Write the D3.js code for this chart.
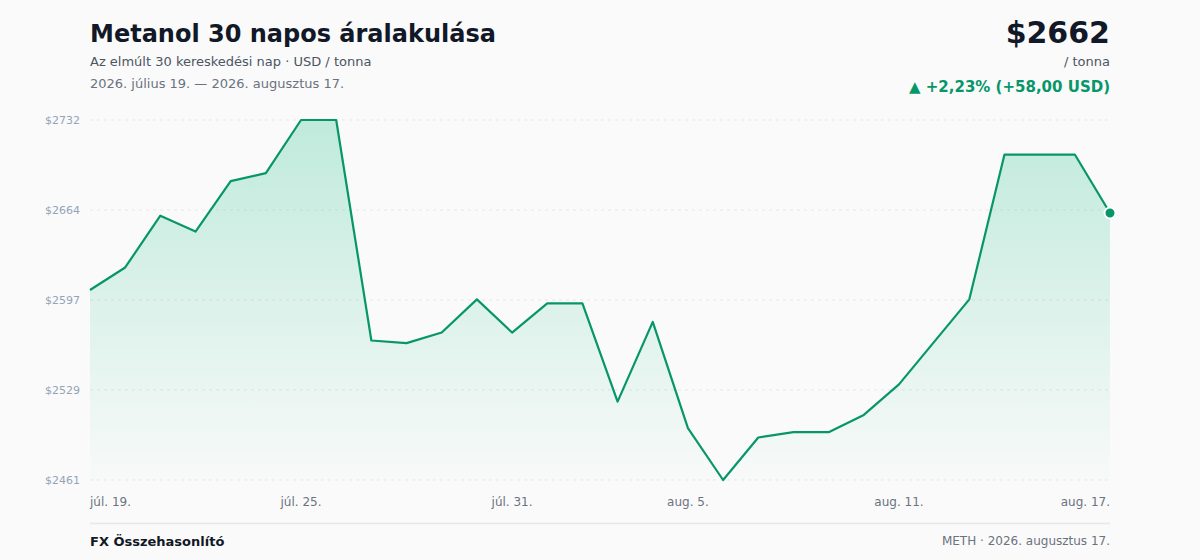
<!DOCTYPE html>
<html lang="hu">
<head>
  <meta charset="utf-8">
  <title>Metanol 30 napos áralakulása</title>
  <script src="https://d3js.org/d3.v7.min.js"></script>
  <style>
    body {
      margin: 0;
      padding: 0;
      background-color: #fafafa;
      font-family: "DejaVu Sans", sans-serif;
    }
    svg { display: block; }
  </style>
</head>
<body>
  <svg id="chart" width="1200" height="560"></svg>

  <script>
    // 30 trading days, Jul 19 -> Aug 17 2026
    const dayLabels = [
      "júl. 19.", "júl. 20.", "júl. 21.", "júl. 22.", "júl. 23.", "júl. 24.",
      "júl. 25.", "júl. 26.", "júl. 27.", "júl. 28.", "júl. 29.", "júl. 30.",
      "júl. 31.", "aug. 1.", "aug. 2.", "aug. 3.", "aug. 4.", "aug. 5.",
      "aug. 6.", "aug. 7.", "aug. 8.", "aug. 9.", "aug. 10.", "aug. 11.",
      "aug. 12.", "aug. 13.", "aug. 14.", "aug. 15.", "aug. 16.", "aug. 17."
    ];
    const prices = [
      2604, 2621, 2660, 2648, 2686, 2692, 2732, 2732, 2566, 2564,
      2572, 2597, 2572, 2594, 2594, 2520, 2580, 2500, 2461, 2493,
      2497, 2497, 2510, 2533, 2565, 2597, 2706, 2706, 2706, 2662
    ];
    const tickIndexes = [0, 6, 12, 17, 23, 29];

    const plotLeft = 90, plotRight = 1110, plotTop = 120, plotBottom = 480;
    const green = "#079669";

    const svg = d3.select("#chart");

    const x = d3.scaleLinear().domain([0, prices.length - 1]).range([plotLeft, plotRight]);
    const yMin = d3.min(prices), yMax = d3.max(prices);
    const y = d3.scaleLinear().domain([yMin, yMax]).range([plotBottom, plotTop]);
    const yTicks = d3.range(5).map(i => yMin + (yMax - yMin) * i / 4);

    // header
    svg.append("text").attr("x", 90).attr("y", 42)
      .attr("font-size", 24).attr("font-weight", "bold").attr("fill", "#111827")
      .text("Metanol 30 napos áralakulása");
    svg.append("text").attr("x", 90).attr("y", 66)
      .attr("font-size", 13).attr("fill", "#4b5563")
      .text("Az elmúlt 30 kereskedési nap · USD / tonna");
    svg.append("text").attr("x", 90).attr("y", 88)
      .attr("font-size", 13).attr("fill", "#6b7280")
      .text("2026. július 19. — 2026. augusztus 17.");

    const last = prices[prices.length - 1], first = prices[0];
    const diff = last - first;
    const pct = diff / first * 100;
    const fmt = v => v.toFixed(2).replace(".", ",");

    svg.append("text").attr("x", 1110).attr("y", 43).attr("text-anchor", "end")
      .attr("font-size", 30).attr("font-weight", "bold").attr("fill", "#111827")
      .text("$" + last);
    svg.append("text").attr("x", 1110).attr("y", 66).attr("text-anchor", "end")
      .attr("font-size", 13).attr("fill", "#4b5563")
      .text("/ tonna");
    svg.append("text").attr("x", 1110).attr("y", 92).attr("text-anchor", "end")
      .attr("font-size", 15).attr("font-weight", "bold").attr("fill", green)
      .text(`▲ +${fmt(pct)}% (+${fmt(diff)} USD)`);

    // gradient
    const grad = svg.append("defs").append("linearGradient")
      .attr("id", "areaGrad").attr("x1", 0).attr("y1", 0).attr("x2", 0).attr("y2", 1);
    grad.append("stop").attr("offset", "0%").attr("stop-color", "#10b981").attr("stop-opacity", 0.25);
    grad.append("stop").attr("offset", "100%").attr("stop-color", "#10b981").attr("stop-opacity", 0.01);

    // grid
    svg.append("g").selectAll("line").data(yTicks).join("line")
      .attr("x1", plotLeft).attr("x2", plotRight)
      .attr("y1", d => y(d)).attr("y2", d => y(d))
      .attr("stroke", "#e5e7eb").attr("stroke-dasharray", "3,4");

    svg.append("g").selectAll("text").data(yTicks).join("text")
      .attr("x", 80).attr("y", d => y(d) + 4).attr("text-anchor", "end")
      .attr("font-size", 11).attr("fill", "#94a3b8")
      .text(d => "$" + Math.round(d));

    // area + line
    const area = d3.area().x((d, i) => x(i)).y0(plotBottom).y1(d => y(d));
    const line = d3.line().x((d, i) => x(i)).y(d => y(d));

    svg.append("path").datum(prices).attr("d", area).attr("fill", "url(#areaGrad)");
    svg.append("path").datum(prices).attr("d", line)
      .attr("fill", "none").attr("stroke", green).attr("stroke-width", 2.2)
      .attr("stroke-linejoin", "round");

    svg.append("circle")
      .attr("cx", x(prices.length - 1)).attr("cy", y(last)).attr("r", 5.5)
      .attr("fill", green).attr("stroke", "#fff").attr("stroke-width", 2);

    // x labels
    svg.append("g").selectAll("text").data(tickIndexes).join("text")
      .attr("x", d => x(d)).attr("y", 506)
      .attr("text-anchor", (d, i) => i === 0 ? "start" : i === tickIndexes.length - 1 ? "end" : "middle")
      .attr("font-size", 12).attr("fill", "#6b7280")
      .text(d => dayLabels[d]);

    // footer
    svg.append("line").attr("x1", plotLeft).attr("x2", plotRight).attr("y1", 523.5).attr("y2", 523.5)
      .attr("stroke", "#e5e7eb").attr("stroke-width", 1.5);
    svg.append("text").attr("x", 90).attr("y", 546)
      .attr("font-size", 13).attr("font-weight", "bold").attr("fill", "#111827")
      .text("FX Összehasonlító");
    svg.append("text").attr("x", 1110).attr("y", 545).attr("text-anchor", "end")
      .attr("font-size", 12).attr("fill", "#6b7280")
      .text("METH · 2026. augusztus 17.");
  </script>
</body>
</html>
